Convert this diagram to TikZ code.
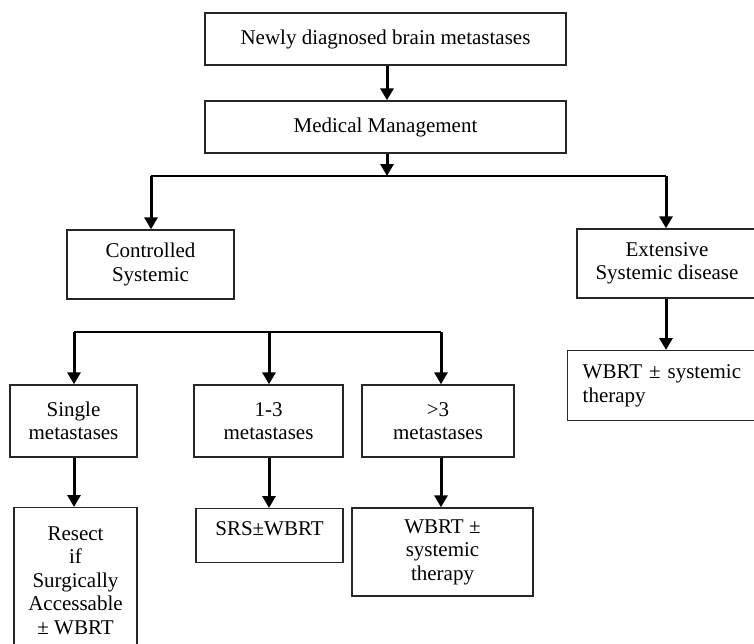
\documentclass[tikz,border=0pt]{standalone}
\usepackage{fontspec}
\setmainfont{Liberation Serif}
\usetikzlibrary{arrows.meta, positioning}

\begin{document}
\begin{tikzpicture}[x=1pt, y=-1pt,
  box/.style={draw=black!85, line width=1.4pt, inner sep=0pt, align=center,
    font=\fontsize{21}{23.5}\selectfont},
  flow/.style={-{Triangle[width=13pt,length=12pt]}, line width=3pt},
  bar/.style={line width=2pt}]
\clip (0,0) rectangle (754,643);

% upper part
\node[box, minimum width=361pt, minimum height=52pt] (new) at (385.5,39) {Newly diagnosed brain metastases};
\node[box, minimum width=361pt, minimum height=52pt] (med) at (385.5,127) {Medical Management};
\node[box, minimum width=167pt, minimum height=69pt] (ctrl) at (150.5,264.5) {Controlled\\Systemic};
\node[box, minimum width=180pt, minimum height=69pt] (ext) at (667,263.5) {Extensive\\Systemic disease};
\node[box, anchor=north west, align=left, inner xsep=15pt, text width=173pt, minimum height=70pt] (wbrtR) at (567,350) {WBRT ± systemic\\therapy};

\coordinate (top) at (387,176);
\coordinate (topL) at (151,176);
\coordinate (topR) at (666,176);

\draw[flow] (new.south -| top) -- (top |- med.north);
\draw[flow] (med.south -| top) -- (top);
\draw[bar] (topL) -- (topR);
\draw[flow] (topL) -- (topL |- ctrl.north);
\draw[flow] (topR) -- (topR |- ext.north);
\draw[flow] (ext.south -| topR) -- (topR |- wbrtR.north);

% lower part
\node[box, minimum width=127pt, minimum height=72pt] (single) at (73.5,421) {Single\\metastases};
\node[box, minimum width=149pt, minimum height=72pt] (one3) at (268.5,421) {1-3\\metastases};
\node[box, minimum width=152pt, minimum height=72pt] (gt3) at (438,421) {>3\\metastases};

\node[box, anchor=north, minimum width=123pt, inner ysep=19pt] (resect) at (75.5,507) {Resect\\if\\Surgically\\Accessable\\± WBRT};
\node[box, anchor=north, minimum width=147pt, inner ysep=14pt, text height=13pt, text depth=13pt] (srs) at (269.5,508) {SRS±WBRT};
\node[box, minimum width=181pt, minimum height=88pt] (wbrtM) at (442.5,552) {WBRT ±\\systemic\\therapy};

\coordinate (midL) at (74,332);
\coordinate (midC) at (269,332);
\coordinate (midR) at (441,332);

\draw[bar] (midL) -- (midR);
\draw[flow] (midL) -- (midL |- single.north);
\draw[flow] (midC) -- (midC |- one3.north);
\draw[flow] (midR) -- (midR |- gt3.north);
\draw[flow] (single.south -| midL) -- (midL |- resect.north);
\draw[flow] (one3.south -| midC) -- (midC |- srs.north);
\draw[flow] (gt3.south -| midR) -- (midR |- wbrtM.north);
\end{tikzpicture}
\end{document}
